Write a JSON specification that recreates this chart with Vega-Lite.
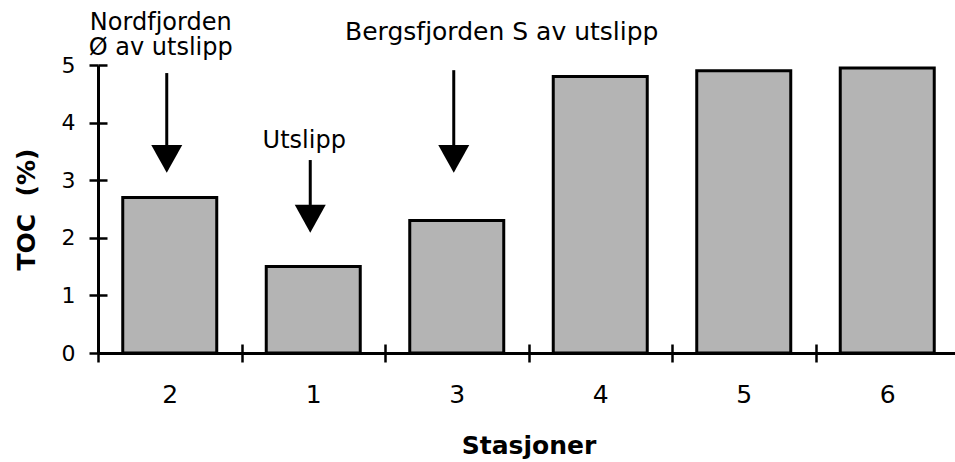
{
  "$schema": "https://vega.github.io/schema/vega-lite/v6.json",
  "width": 861,
  "height": 288,
  "autosize": {"type": "none"},
  "padding": {"left": 98, "top": 65, "right": 0, "bottom": 109},
  "background": "white",
  "config": {"view": {"stroke": null}, "font": "DejaVu Sans"},
  "datasets": {
    "toc": [
      {"stasjon": "2", "toc": 2.7},
      {"stasjon": "1", "toc": 1.5},
      {"stasjon": "3", "toc": 2.3},
      {"stasjon": "4", "toc": 4.8},
      {"stasjon": "5", "toc": 4.9},
      {"stasjon": "6", "toc": 4.95}
    ],
    "arrows": [
      {"stasjon": "2", "y1": 4.86, "y2": 3.61, "head": 3.37},
      {"stasjon": "1", "y1": 3.35, "y2": 2.57, "head": 2.33},
      {"stasjon": "3", "y1": 4.91, "y2": 3.61, "head": 3.37}
    ],
    "labels": [
      {"stasjon": "2", "y": 5.6, "tekst": "Nordfjorden"},
      {"stasjon": "2", "y": 5.17, "tekst": "Ø av utslipp"},
      {"stasjon": "1", "y": 3.56, "tekst": "Utslipp"}
    ],
    "labels2": [
      {"stasjon": "3", "y": 5.43, "tekst": "Bergsfjorden S av utslipp"}
    ]
  },
  "layer": [
    {
      "data": {"name": "toc"},
      "mark": {"type": "bar", "fill": "#b4b4b4", "stroke": "black", "strokeWidth": 3, "width": {"band": 0.655}},
      "encoding": {
        "x": {
          "field": "stasjon",
          "type": "nominal",
          "title": "Stasjoner",
          "scale": {"domain": ["2", "1", "3", "4", "5", "6"], "paddingInner": 0, "paddingOuter": 0},
          "axis": {
            "title": "Stasjoner",
            "tickBand": "extent",
            "labelAngle": 0,
            "domainColor": "black",
            "domainWidth": 3,
            "tickColor": "black",
            "tickWidth": 2.5,
            "tickSize": 9,
            "grid": true,
            "gridColor": "black",
            "gridWidth": 2.5,
            "gridDash": [0, 279, 9, 1000],
            "labelFont": "DejaVu Sans",
            "labelFontSize": 25,
            "labelColor": "black",
            "labelPadding": 20,
            "titleFont": "DejaVu Sans",
            "titleFontSize": 25,
            "titleFontWeight": "bold",
            "titleColor": "black",
            "titlePadding": 26
          }
        },
        "y": {
          "field": "toc",
          "type": "quantitative",
          "title": "TOC\u00a0\u00a0(%)",
          "scale": {"domain": [0, 5], "nice": false},
          "axis": {
            "title": "TOC\u00a0\u00a0(%)",
            "values": [0, 1, 2, 3, 4, 5],
            "format": "d",
            "domainColor": "black",
            "domainWidth": 3,
            "tickColor": "black",
            "tickWidth": 2.5,
            "tickSize": 9,
            "grid": true,
            "gridColor": "black",
            "gridWidth": 2.5,
            "gridDash": [9, 2000],
            "labelFont": "DejaVu Sans",
            "labelFontSize": 22,
            "labelColor": "black",
            "labelPadding": 14,
            "titleFont": "DejaVu Sans",
            "titleFontSize": 25,
            "titleFontWeight": "bold",
            "titleColor": "black",
            "titlePadding": 22
          }
        }
      }
    },
    {
      "data": {"name": "arrows"},
      "mark": {"type": "rule", "strokeWidth": 3, "color": "black", "xOffset": -3},
      "encoding": {
        "x": {"field": "stasjon", "type": "nominal", "title": "Stasjoner"},
        "y": {"field": "y1", "type": "quantitative", "title": "TOC\u00a0\u00a0(%)"},
        "y2": {"field": "y2"}
      }
    },
    {
      "data": {"name": "arrows"},
      "mark": {"type": "point", "shape": "M-1,-0.9L1,-0.9L0,0.9Z", "size": 961, "filled": true, "color": "black", "opacity": 1, "xOffset": -3},
      "encoding": {
        "x": {"field": "stasjon", "type": "nominal", "title": "Stasjoner"},
        "y": {"field": "head", "type": "quantitative", "title": "TOC\u00a0\u00a0(%)"}
      }
    },
    {
      "data": {"name": "labels"},
      "mark": {"type": "text", "font": "DejaVu Sans", "fontSize": 24, "color": "black", "align": "center", "baseline": "alphabetic", "dx": -9},
      "encoding": {
        "x": {"field": "stasjon", "type": "nominal", "title": "Stasjoner"},
        "y": {"field": "y", "type": "quantitative", "title": "TOC\u00a0\u00a0(%)"},
        "text": {"field": "tekst"}
      }
    },
    {
      "data": {"name": "labels2"},
      "mark": {"type": "text", "font": "DejaVu Sans", "fontSize": 25, "color": "black", "align": "center", "baseline": "alphabetic", "dx": 45},
      "encoding": {
        "x": {"field": "stasjon", "type": "nominal", "title": "Stasjoner"},
        "y": {"field": "y", "type": "quantitative", "title": "TOC\u00a0\u00a0(%)"},
        "text": {"field": "tekst"}
      }
    }
  ]
}
